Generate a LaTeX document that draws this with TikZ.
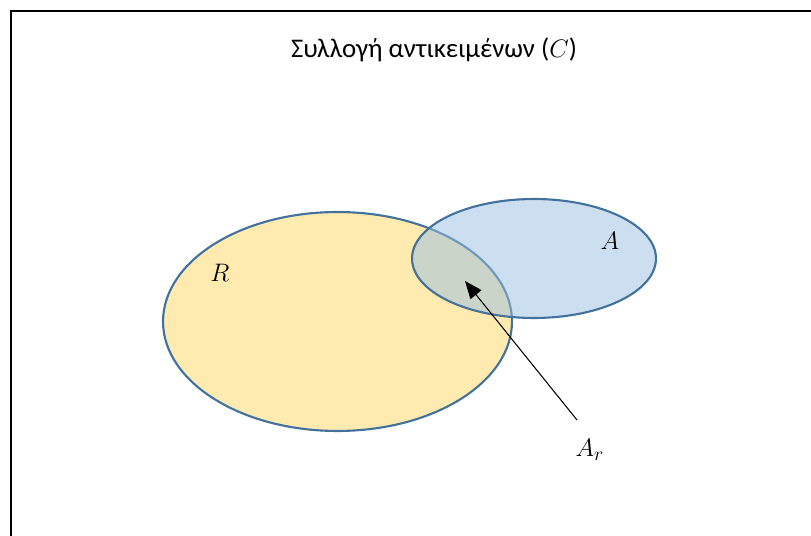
\documentclass[tikz,border=0pt]{standalone}
\usepackage{fontspec}
\setmainfont{Carlito}
\usepackage{tikz}
\usetikzlibrary{shapes.geometric}
\usetikzlibrary{arrows.meta}
\usetikzlibrary{positioning}

\definecolor{setline}{RGB}{65,113,156}
\definecolor{setyellow}{RGB}{255,234,176}
\definecolor{setblue}{RGB}{153,191,227}

\begin{document}
\begin{tikzpicture}[
    x=0.02cm, y=-0.02cm,
    setR/.style={ellipse, draw=setline, fill=setyellow, line width=1.2pt, inner sep=0pt},
    setA/.style={ellipse, draw=setline, fill=setblue, fill opacity=0.5, draw opacity=1, line width=1.2pt, inner sep=0pt},
    lbl/.style={font=\fontsize{15.3}{18}\selectfont},
    ptr/.style={-{Triangle[length=10pt, width=8pt]}, line width=0.6pt, black},
  ]
  \clip (0,0) rectangle (811,536);
  \useasboundingbox (0,0) rectangle (811,536);

  % Frame
  \draw[line width=1.6pt] (11,560) |- (830,11);

  % Title
  \node[lbl] (title) at (434,50) {Συλλογή αντικειμένων ($C$)};

  % Sets
  \node[setR, minimum width=6.98cm, minimum height=4.38cm] (R) at (337.5,321.5) {};
  \node[setA, minimum width=4.88cm, minimum height=2.38cm] (A) at (534,258.5) {};

  % Labels
  \node[lbl] (lR) at (220,273) {$R$};
  \node[lbl] (lA) at (610,241) {$A$};
  \node[lbl] (lAr) at (590,450) {$A_r$};

  % Arrow into the overlap
  \coordinate (tail) at (577,420);
  \coordinate (head) at (465,281);
  \draw[ptr] (tail) -- (head);
\end{tikzpicture}
\end{document}
